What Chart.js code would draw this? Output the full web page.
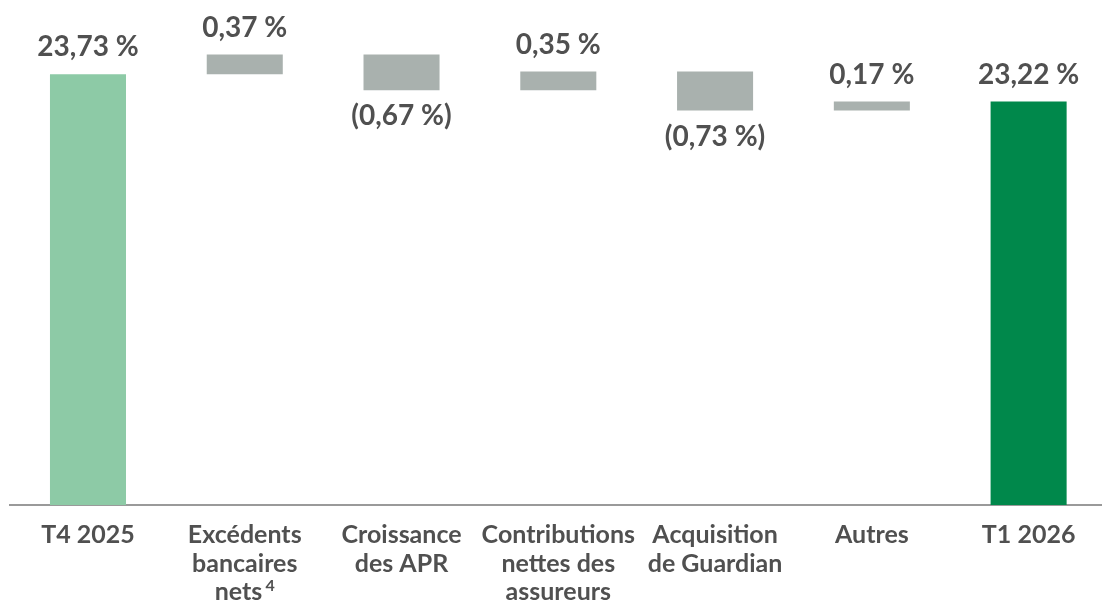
<!DOCTYPE html>
<html>
<head>
<meta charset="utf-8">
<script src="https://cdn.jsdelivr.net/npm/chart.js@4.4.1/dist/chart.umd.min.js"></script>
<style>
  html, body { margin: 0; padding: 0; background: #fff; overflow: hidden; }
  #wrap { width: 1107px; height: 601px; }
</style>
</head>
<body>
<div id="wrap"><canvas id="chart"></canvas></div>
<script>
// categories and values
const categories = [
    ["T4 2025"],
    ["Excédents", "bancaires", "nets\u2002"],
    ["Croissance", "des APR"],
    ["Contributions", "nettes des", "assureurs"],
    ["Acquisition", "de Guardian"],
    ["Autres"],
    ["T1 2026"]
];
const values = [23.73, 0.37, -0.67, 0.35, -0.73, 0.17, 23.22];
const isTotal = [true, false, false, false, false, false, true];
const barColors = ["#8dcaa6", "#a9b1ae", "#a9b1ae", "#a9b1ae", "#a9b1ae", "#a9b1ae", "#00884b"];
// footnote mark after "nets"
const footnote = { index: 1, text: "4" };

// hidden y scale limits (axis is cut, not starting at 0)
const yMin = 15.66;
const yMax = 25;

// build floating bars for the waterfall
let running = 0;
const ranges = values.map((v, i) => {
    if (isTotal[i]) {
        running = v;
        return [0, v];
    }
    const start = running;
    running += v;
    return [start, running];
});

function fmt(v) {
    const s = Math.abs(v).toFixed(2).replace(".", ",") + " %";
    return v < 0 ? "(" + s + ")" : s;
}

const textColor = "#505050";
const fontFamily = "Lato, 'Open Sans', sans-serif";
const tickSize = 25;
const tickLine = 1.14;
const tickPad = 16;

// draws the value labels above / below each bar, and the footnote
const valueLabels = {
    id: "valueLabels",
    afterDatasetsDraw(chart) {
        const ctx = chart.ctx;
        const meta = chart.getDatasetMeta(0);
        ctx.save();
        ctx.font = "bold 28px " + fontFamily;
        ctx.fillStyle = textColor;
        ctx.textAlign = "center";
        ctx.textBaseline = "alphabetic";
        meta.data.forEach((bar, i) => {
            const v = values[i];
            const top = Math.min(bar.y, bar.base);
            const bottom = Math.max(bar.y, bar.base);
            if (v < 0) {
                ctx.fillText(fmt(v), bar.x, bottom + 35);
            } else {
                ctx.fillText(fmt(v), bar.x, top - 18);
            }
        });

        // small raised "4" after the last line of the label
        const xs = chart.scales.x;
        const lbl = categories[footnote.index];
        ctx.font = "bold " + tickSize + "px " + fontFamily;
        const w = ctx.measureText(lbl[lbl.length - 1]).width;
        const cx = xs.getPixelForTick(footnote.index);
        ctx.font = "bold 16px " + fontFamily;
        ctx.textAlign = "right";
        const lineY = chart.chartArea.bottom + tickPad + (lbl.length - 1) * tickSize * tickLine;
        ctx.fillText(footnote.text, cx + w / 2, lineY + 13);
        ctx.restore();
    }
};

new Chart(document.getElementById("chart"), {
    type: "bar",
    data: {
        labels: categories,
        datasets: [{
            data: ranges,
            backgroundColor: barColors,
            borderWidth: 0,
            barPercentage: 0.485,
            categoryPercentage: 1
        }]
    },
    options: {
        responsive: true,
        maintainAspectRatio: false,
        animation: false,
        layout: { padding: { top: 6.5, left: 9.6, right: 0, bottom: 0 } },
        plugins: {
            legend: { display: false },
            tooltip: { enabled: false }
        },
        scales: {
            y: {
                display: false,
                min: yMin,
                max: yMax
            },
            x: {
                grid: { display: false, drawTicks: false },
                border: { display: true, color: "#9a9a9a", width: 2 },
                ticks: {
                    color: textColor,
                    font: { family: fontFamily, size: tickSize, weight: "bold", lineHeight: tickLine },
                    padding: tickPad,
                    maxRotation: 0,
                    autoSkip: false
                },
                afterFit(scale) {
                    scale.height = 96;
                }
            }
        }
    },
    plugins: [valueLabels]
});
</script>
</body>
</html>
